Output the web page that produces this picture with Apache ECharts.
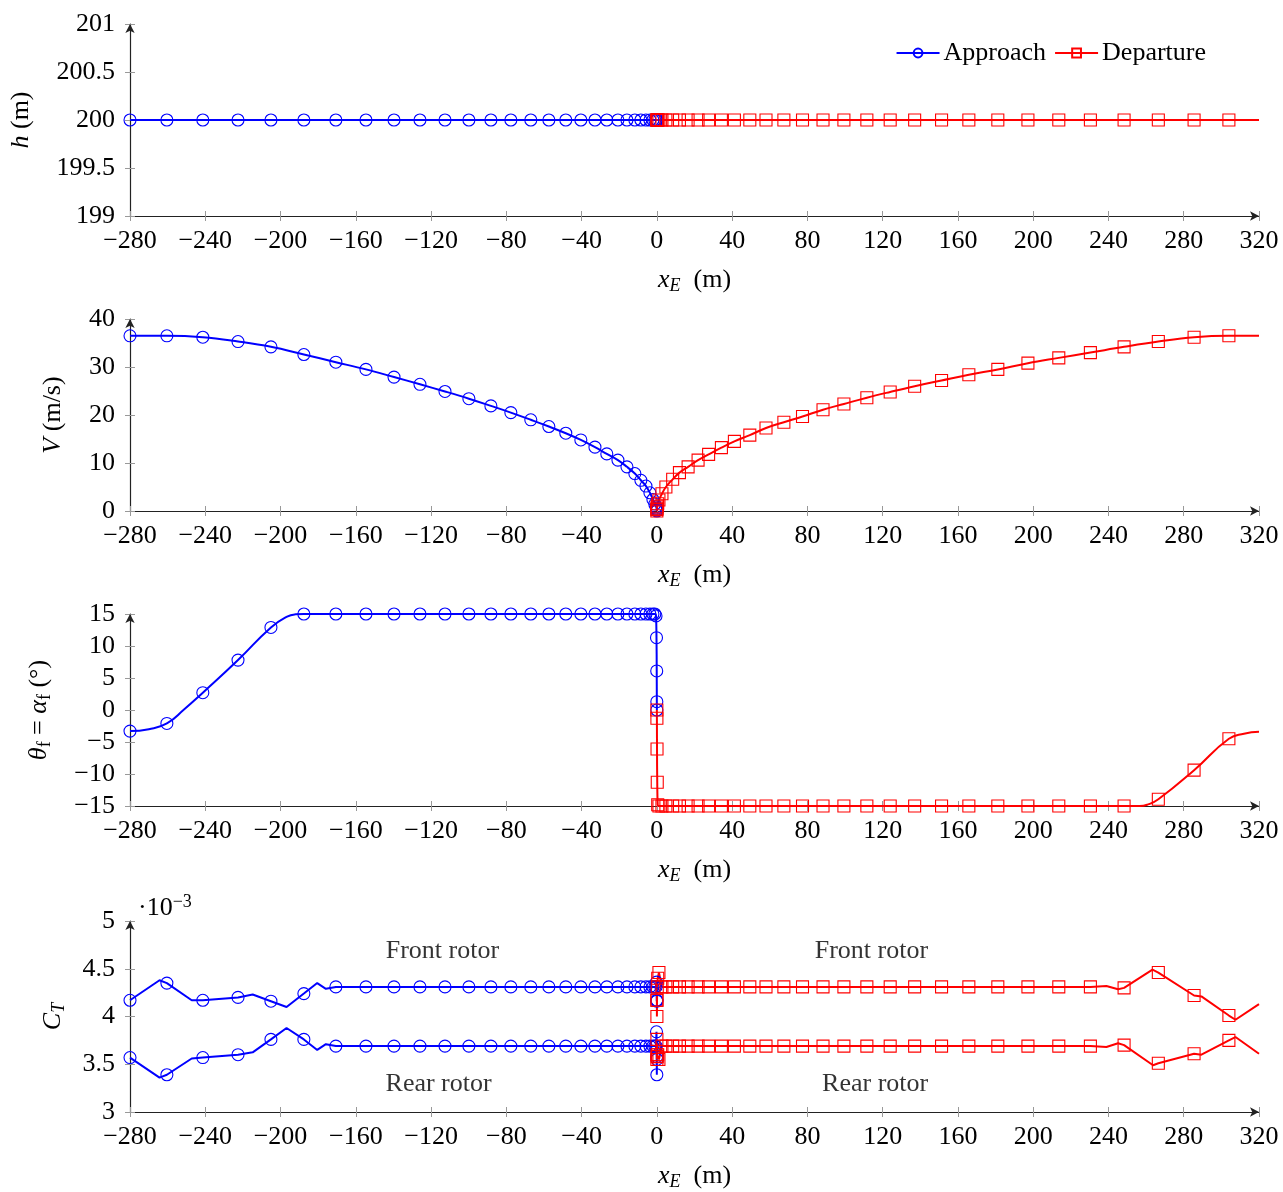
<!DOCTYPE html>
<html>
<head>
<meta charset="utf-8">
<script src="https://cdn.jsdelivr.net/npm/echarts@6/dist/echarts.min.js"></script>
<style>
html, body { margin: 0; padding: 0; background: #fff; }
#main { width: 1283px; height: 1192px; }
</style>
</head>
<body>
<div id="main"></div>
<script type="text/javascript">

// x positions of the markers (m)
var approachX = [-280, -260.4, -241.3, -222.6, -205.1, -187.6, -170.6, -154.6, -139.7, -125.9, -112.6, -99.9, -88.2, -77.6, -67.0, -57.4, -48.4, -40.4, -32.9, -26.6, -20.7, -15.9, -11.7, -8.5, -5.8, -3.7, -2.1, -1.1, -0.45, -0.2, -0.08, -0.02, 0];
var departureX = [0, 0.02, 0.08, 0.2, 0.45, 1.1, 2.7, 4.8, 8.4, 12.0, 16.6, 21.9, 27.5, 34.3, 41.2, 49.4, 58.0, 67.5, 77.4, 88.3, 99.4, 111.6, 124.0, 137.0, 151.3, 165.8, 181.2, 197.2, 213.6, 230.4, 248.3, 266.5, 285.5, 304.0];

// altitude h (m)
var approachH = [200, 200, 200, 200, 200, 200, 200, 200, 200, 200, 200, 200, 200, 200, 200, 200, 200, 200, 200, 200, 200, 200, 200, 200, 200, 200, 200, 200, 200, 200, 200, 200, 200];
var departureH = [200, 200, 200, 200, 200, 200, 200, 200, 200, 200, 200, 200, 200, 200, 200, 200, 200, 200, 200, 200, 200, 200, 200, 200, 200, 200, 200, 200, 200, 200, 200, 200, 200, 200];
var departureHEnd = [[320, 200]];

// speed V (m/s)
var approachV = [36.5, 36.5, 36.2, 35.3, 34.2, 32.6, 31.0, 29.5, 27.9, 26.4, 24.9, 23.4, 21.9, 20.5, 19.0, 17.6, 16.2, 14.8, 13.3, 11.9, 10.6, 9.2, 7.8, 6.4, 5.2, 3.8, 2.4, 1.45, 0.9, 0.6, 0.35, 0.15, 0];
var departureV = [0, 0.3, 0.6, 1.0, 1.5, 2.3, 3.6, 5.0, 6.6, 8.0, 9.2, 10.6, 11.8, 13.2, 14.5, 15.8, 17.3, 18.5, 19.7, 21.1, 22.3, 23.6, 24.8, 26.0, 27.2, 28.4, 29.5, 30.8, 31.9, 33.0, 34.2, 35.3, 36.2, 36.5];
var departureVEnd = [[320, 36.5]];

// pitch angle theta_f = alpha_f (deg)
var approachTheta = [-3.3, -2.1, 2.7, 7.8, 12.9, 15, 15, 15, 15, 15, 15, 15, 15, 15, 15, 15, 15, 15, 15, 15, 15, 15, 15, 15, 15, 15, 15, 15, 14.7, 11.3, 6.1, 1.3, 0];
var departureTheta = [0, -1.3, -6.1, -11.3, -14.8, -15, -15, -15, -15, -15, -15, -15, -15, -15, -15, -15, -15, -15, -15, -15, -15, -15, -15, -15, -15, -15, -15, -15, -15, -15, -15, -13.95, -9.4, -4.5];
var approachThetaCurve = [[-270, -3.0], [-251, 0.15], [-196.5, 14.6], [-192, 14.95]];
var departureThetaCurve = [[256.6, -15], [261, -14.75], [312, -3.7], [320, -3.4]];

// thrust coefficient C_T (x 1e-3)
var approachFront = [4.17, 4.35, 4.17, 4.20, 4.16, 4.24, 4.31, 4.31, 4.31, 4.31, 4.31, 4.31, 4.31, 4.31, 4.31, 4.31, 4.31, 4.31, 4.31, 4.31, 4.31, 4.31, 4.31, 4.31, 4.31, 4.31, 4.31, 4.31, 4.31, 4.36, 4.17, 4.16, 4.17];
var approachRear = [3.57, 3.39, 3.57, 3.60, 3.76, 3.76, 3.69, 3.69, 3.69, 3.69, 3.69, 3.69, 3.69, 3.69, 3.69, 3.69, 3.69, 3.69, 3.69, 3.69, 3.69, 3.69, 3.69, 3.69, 3.69, 3.69, 3.69, 3.69, 3.69, 3.84, 3.58, 3.39, 3.55];
var departureFront = [4.17, 4.0, 4.17, 4.31, 4.40, 4.46, 4.31, 4.31, 4.31, 4.31, 4.31, 4.31, 4.31, 4.31, 4.31, 4.31, 4.31, 4.31, 4.31, 4.31, 4.31, 4.31, 4.31, 4.31, 4.31, 4.31, 4.31, 4.31, 4.31, 4.31, 4.30, 4.46, 4.22, 4.01];
var departureRear = [3.55, 3.76, 3.60, 3.58, 3.60, 3.55, 3.69, 3.69, 3.69, 3.69, 3.69, 3.69, 3.69, 3.69, 3.69, 3.69, 3.69, 3.69, 3.69, 3.69, 3.69, 3.69, 3.69, 3.69, 3.69, 3.69, 3.69, 3.69, 3.69, 3.69, 3.70, 3.51, 3.61, 3.75];
var approachFrontKinks = [[-264.3, 4.38], [-247.2, 4.17], [-214.8, 4.23], [-196.8, 4.10], [-180.5, 4.35], [-175.9, 4.29]];
var approachRearKinks = [[-264.3, 3.36], [-247.2, 3.56], [-214.8, 3.625], [-196.8, 3.88], [-180.5, 3.65], [-175.9, 3.71]];
var departureFrontKinks = [[238.9, 4.32], [245.1, 4.285], [263.4, 4.49], [289.4, 4.21], [307.5, 3.966], [320, 4.13]];
var departureRearKinks = [[238.9, 3.68], [245.1, 3.72], [263.7, 3.49], [289.4, 3.60], [307.5, 3.785], [320, 3.61]];

// text notes in the C_T panel
var noteText = ['Front rotor', 'Front rotor', 'Rear rotor', 'Rear rotor'];
var noteX = [-114, 114, -116, 116];
var noteY = [4.68, 4.68, 3.29, 3.29];

// axes
var xRange = [-280, 320, 40];
var yRanges = [[199, 201, 0.5], [0, 40, 10], [-15, 15, 5], [3, 5, 0.5]];

var FONT = 'Liberation Serif';
var FS = 26;
var BLUE = '#0000ff';
var RED = '#ff0000';
var gridTops = [24, 319, 614, 921];

function minus(v) {
    return String(v).replace('-', '\u2212');
}

function points(xs, ys, extra) {
    var out = [];
    for (var i = 0; i < xs.length; i++) {
        out.push({ value: [xs[i], ys[i]] });
    }
    (extra || []).forEach(function (p) {
        out.push({ value: [p[0], p[1]], symbol: 'none' });
    });
    out.sort(function (a, b) { return a.value[0] - b.value[0]; });
    return out;
}

var rich = {
    i: { fontFamily: FONT, fontSize: FS, fontStyle: 'italic', color: '#000', lineHeight: 30 },
    r: { fontFamily: FONT, fontSize: FS, color: '#000', lineHeight: 30 },
    sub: { fontFamily: FONT, fontSize: 18, fontStyle: 'italic', color: '#000', verticalAlign: 'bottom', lineHeight: 13 },
    subr: { fontFamily: FONT, fontSize: 18, color: '#000', verticalAlign: 'bottom', lineHeight: 13 },
    sup: { fontFamily: FONT, fontSize: 18, color: '#000', verticalAlign: 'top', lineHeight: 10 }
};

var yNames = ['{i|h}{r| (m)}', '{i|V}{r| (m/s)}', '{i|θ}{subr|f}{r| = }{i|α}{subr|f}{r| (°)}', '{i|C}{sub|T}'];
var yNameGaps = [94, 62, 76, 62];

var grids = [], xAxes = [], yAxes = [];
for (var k = 0; k < 4; k++) {
    grids.push({ left: 130, right: 24, top: gridTops[k], height: 192 });
    xAxes.push({
        gridIndex: k, type: 'value', min: xRange[0], max: xRange[1], interval: xRange[2],
        axisLine: { show: true, onZero: false, symbol: ['none', 'arrow'], symbolSize: [7, 9], lineStyle: { color: '#222', width: 1.2 } },
        axisTick: { show: true, inside: false, length: 5, lineStyle: { color: '#999' } },
        axisLabel: { fontFamily: FONT, fontSize: FS, color: '#000', margin: 12, formatter: minus },
        splitLine: { show: false },
        name: '{i|x}{sub|E}{r|  (m)}', nameLocation: 'middle', nameGap: 49,
        nameTextStyle: { rich: rich }
    });
    xAxes.push({
        gridIndex: k, type: 'value', min: xRange[0], max: xRange[1], interval: xRange[2], position: 'bottom',
        axisLine: { show: false, onZero: false },
        axisTick: { show: true, inside: true, length: 5, lineStyle: { color: '#999' } },
        axisLabel: { show: false }, splitLine: { show: false }
    });
    var yr = yRanges[k];
    yAxes.push({
        gridIndex: k, type: 'value', min: yr[0], max: yr[1], interval: yr[2],
        axisLine: { show: true, onZero: false, symbol: ['none', 'arrow'], symbolSize: [7, 9], lineStyle: { color: '#222', width: 1.2 } },
        axisTick: { show: true, inside: false, length: 5, lineStyle: { color: '#999' } },
        axisLabel: { fontFamily: FONT, fontSize: FS, color: '#000', margin: 15, formatter: minus },
        splitLine: { show: false },
        name: yNames[k], nameLocation: 'middle', nameRotate: 90, nameGap: yNameGaps[k],
        nameTextStyle: { rich: rich }
    });
    yAxes.push({
        gridIndex: k, type: 'value', min: yr[0], max: yr[1], interval: yr[2], position: 'left',
        axisLine: { show: false, onZero: false },
        axisTick: { show: true, inside: true, length: 5, lineStyle: { color: '#999' } },
        axisLabel: { show: false }, splitLine: { show: false },
        name: k === 3 ? '{r|·10}{sup|−3}' : '', nameLocation: 'end', nameGap: -2,
        nameTextStyle: { rich: rich, align: 'left', padding: [0, 0, 0, 8] }
    });
}

function lineSeries(name, panel, data, color, marker, smooth) {
    return {
        name: name, type: 'line', xAxisIndex: panel * 2, yAxisIndex: panel * 2,
        data: data, symbol: marker, symbolSize: 12, showSymbol: true, clip: false,
        smooth: smooth,
        lineStyle: { color: color, width: 2 },
        itemStyle: { color: 'rgba(255,255,255,0)', borderColor: color, borderWidth: 1.1 },
        emphasis: { disabled: true },
        animation: false
    };
}

var series = [
    lineSeries('Approach', 0, points(approachX, approachH), BLUE, 'circle', false),
    lineSeries('Departure', 0, points(departureX, departureH, departureHEnd), RED, 'rect', false),
    lineSeries('Approach', 1, points(approachX, approachV), BLUE, 'circle', 0.4),
    lineSeries('Departure', 1, points(departureX, departureV, departureVEnd), RED, 'rect', 0.4),
    lineSeries('Approach', 2, points(approachX, approachTheta, approachThetaCurve), BLUE, 'circle', 0.5),
    lineSeries('Departure', 2, points(departureX, departureTheta, departureThetaCurve), RED, 'rect', 0.5),
    lineSeries('Approach', 3, points(approachX, approachFront, approachFrontKinks), BLUE, 'circle', false),
    lineSeries('Approach', 3, points(approachX, approachRear, approachRearKinks), BLUE, 'circle', false),
    lineSeries('Departure', 3, points(departureX, departureFront, departureFrontKinks), RED, 'rect', false),
    lineSeries('Departure', 3, points(departureX, departureRear, departureRearKinks), RED, 'rect', false),
    {
        name: 'notes', type: 'scatter', xAxisIndex: 6, yAxisIndex: 6, silent: true,
        data: noteX.map(function (x, i) { return [x, noteY[i]]; }),
        symbolSize: 1, itemStyle: { color: 'rgba(0,0,0,0)' },
        label: {
            show: true, position: 'inside', fontFamily: FONT, fontSize: FS, color: '#000',
            formatter: function (p) { return noteText[p.dataIndex]; }
        },
        animation: false
    }
];

var myChart = echarts.init(document.getElementById('main'));
myChart.setOption({
    backgroundColor: '#fff',
    animation: false,
    grid: grids,
    xAxis: xAxes,
    yAxis: yAxes,
    legend: {
        data: ['Approach', 'Departure'], right: 72, top: 35,
        itemWidth: 43, itemHeight: 11, itemGap: 8,
        textStyle: { fontFamily: FONT, fontSize: FS, color: '#000', padding: [0, 0, 0, -1] }
    },
    series: series
});

window.onresize = function () {
    myChart.resize();
};
</script>
</body>
</html>
